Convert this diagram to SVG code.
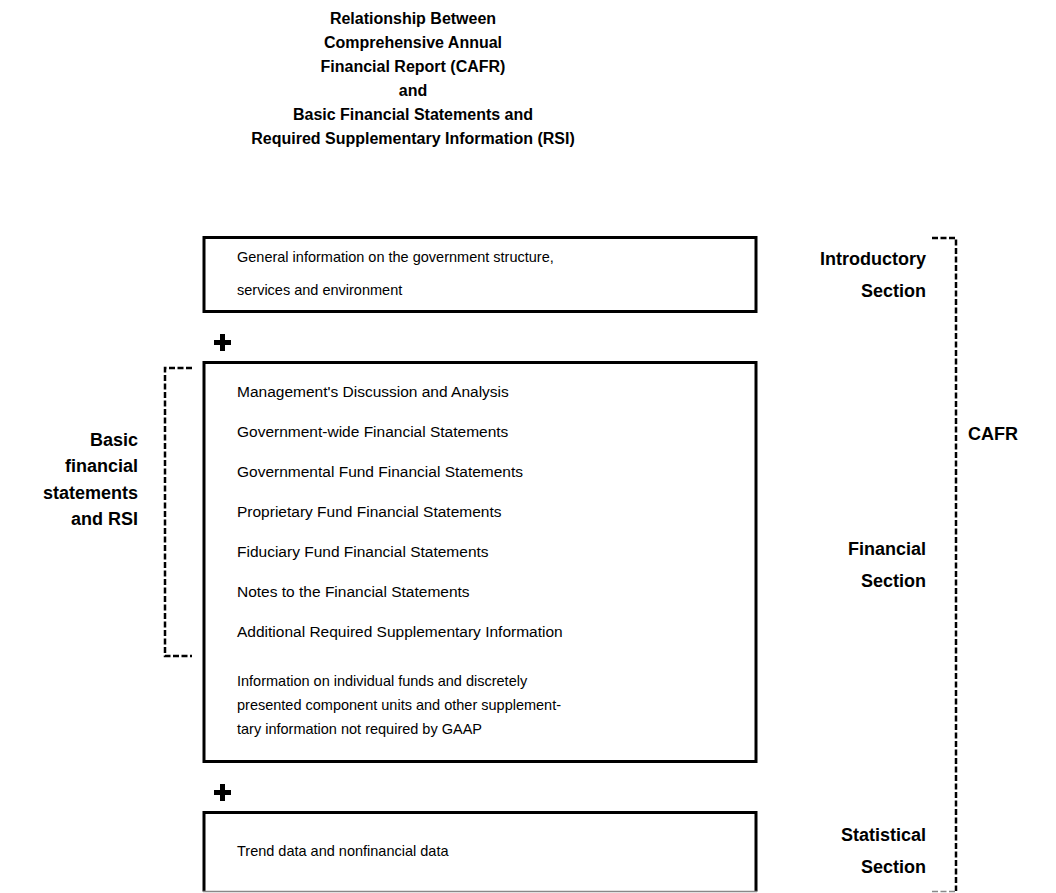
<svg xmlns="http://www.w3.org/2000/svg" width="1056" height="893" viewBox="0 0 1056 893">
<style>
.t{font-family:"Liberation Sans",Arial,sans-serif;font-size:16px;font-weight:bold;fill:#000;text-anchor:middle}
.b{font-family:"Liberation Sans",Arial,sans-serif;font-size:14.5px;fill:#000}
.m{font-family:"Liberation Sans",Arial,sans-serif;font-size:15.5px;fill:#000}
.l{font-family:"Liberation Sans",Arial,sans-serif;font-size:18px;font-weight:bold;fill:#000;text-anchor:end}
.box{fill:#fff;stroke:#000;stroke-width:3}
.dash{fill:none;stroke:#000;stroke-width:2.5;stroke-dasharray:6,2.5}
.plus{fill:#000}
</style>
<rect width="1056" height="893" fill="#fff"/>
<g id="title">
<text class="t" x="413" y="24">Relationship Between</text>
<text class="t" x="413" y="48">Comprehensive Annual</text>
<text class="t" x="413" y="72">Financial Report (CAFR)</text>
<text class="t" x="413" y="96">and</text>
<text class="t" x="413" y="120">Basic Financial Statements and</text>
<text class="t" x="413" y="144">Required Supplementary Information (RSI)</text>
</g>
<g id="introductory">
<rect class="box" x="204" y="237.5" width="552" height="74"/>
<text class="b" x="237" y="262">General information on the government structure,</text>
<text class="b" x="237" y="295">services and environment</text>
<text class="l" x="926" y="265">Introductory</text>
<text class="l" x="926" y="297">Section</text>
</g>
<g id="plus1"><path class="plus" d="M220,334h5v6h6v5h-6v6h-5v-6h-6v-5h6z"/></g>
<g id="financial">
<rect class="box" x="204" y="362.5" width="552" height="399"/>
<text class="m" x="237" y="397">Management's Discussion and Analysis</text>
<text class="m" x="237" y="437">Government-wide Financial Statements</text>
<text class="m" x="237" y="477">Governmental Fund Financial Statements</text>
<text class="m" x="237" y="517">Proprietary Fund Financial Statements</text>
<text class="m" x="237" y="557">Fiduciary Fund Financial Statements</text>
<text class="m" x="237" y="597">Notes to the Financial Statements</text>
<text class="m" x="237" y="637">Additional Required Supplementary Information</text>
<text class="b" x="237" y="686">Information on individual funds and discretely</text>
<text class="b" x="237" y="710">presented component units and other supplement-</text>
<text class="b" x="237" y="734">tary information not required by GAAP</text>
<text class="l" x="926" y="555">Financial</text>
<text class="l" x="926" y="587">Section</text>
</g>
<g id="plus2"><path class="plus" d="M220,784h5v6h6v5h-6v6h-5v-6h-6v-5h6z"/></g>
<g id="statistical">
<path d="M204,891.5V812.5H756V891.5" fill="#fff" stroke="#000" stroke-width="3"/>
<line x1="203" y1="891.5" x2="757" y2="891.5" stroke="#888" stroke-width="1.5"/>
<text class="b" x="237" y="856">Trend data and nonfinancial data</text>
<text class="l" x="926" y="841">Statistical</text>
<text class="l" x="926" y="873">Section</text>
</g>
<g id="bsrsi">
<text class="l" x="138" y="446">Basic</text>
<text class="l" x="138" y="472">financial</text>
<text class="l" x="138" y="499">statements</text>
<text class="l" x="138" y="525">and RSI</text>
</g>
<g id="cafr">
<text class="l" x="1018" y="440">CAFR</text>
</g>
<g id="connectors">
<path class="dash" d="M192,368H165V656H192"/>
<path class="dash" d="M932,238H956V891"/>
<line x1="932" y1="891.5" x2="956" y2="891.5" stroke="#888" stroke-width="1.5" stroke-dasharray="6,2.5"/>
</g>
</svg>
